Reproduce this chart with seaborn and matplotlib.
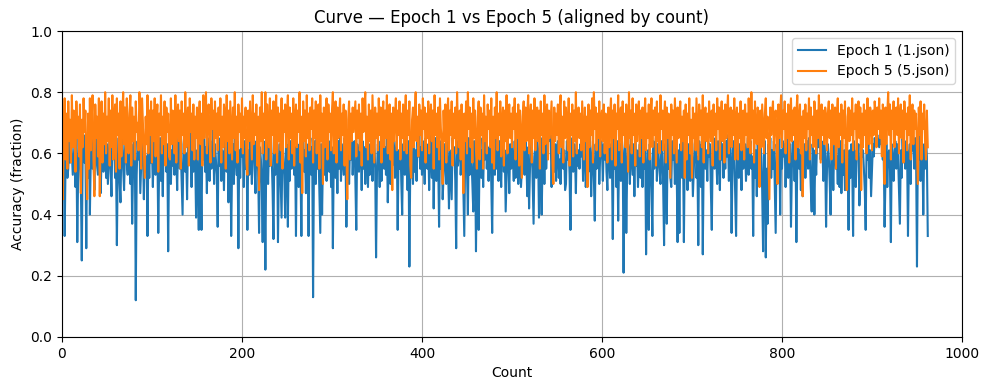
"""Epoch 1 vs Epoch 5 accuracy curve, aligned by count."""

import matplotlib

matplotlib.use("Agg")
import matplotlib.pyplot as plt
import numpy as np
import seaborn as sns

TITLE = "Curve \u2014 Epoch 1 vs Epoch 5 (aligned by count)"
LABELS = ["Epoch 1 (1.json)", "Epoch 5 (5.json)"]

# accuracy per count, in percent
epoch1_pct = [
    45, 56, 63, 33, 58, 67, 52, 55, 64, 57, 66, 60, 53, 58, 63, 49, 65, 31, 54, 62, 59, 50, 25, 60, 66,
    57, 63, 29, 64, 52, 67, 40, 58, 65, 55, 61, 48, 64, 68, 56, 53, 62, 66, 47, 59, 65, 54, 61, 67, 52,
    63, 50, 58, 66, 55, 46, 64, 60, 67, 52, 59, 30, 57, 65, 51, 44, 62, 68, 55, 48, 61, 66, 57, 53, 64,
    59, 50, 63, 37, 55, 66, 60, 12, 53, 64, 58, 67, 47, 56, 65, 61, 45, 64, 54, 59, 33, 62, 52, 66, 57,
    61, 49, 64, 58, 53, 67, 62, 34, 56, 65, 51, 60, 46, 64, 58, 68, 54, 63, 28, 59, 66, 50, 61, 56, 65,
    53, 62, 59, 48, 64, 67, 55, 61, 50, 40, 63, 66, 54, 60, 45, 64, 57, 67, 61, 49, 63, 54, 65, 59, 39,
    61, 52, 35, 63, 56, 35, 64, 58, 67, 54, 62, 47, 65, 60, 51, 64, 55, 61, 68, 50, 63, 58, 53, 36, 64,
    56, 65, 51, 61, 59, 48, 66, 62, 54, 64, 44, 58, 65, 33, 55, 63, 50, 67, 60, 53, 64, 29, 61, 52, 65,
    59, 63, 49, 64, 55, 66, 35, 61, 53, 65, 58, 50, 63, 67, 56, 47, 64, 60, 54, 34, 62, 58, 50, 31, 64,
    54, 22, 61, 65, 50, 63, 56, 67, 59, 48, 32, 64, 53, 61, 66, 31, 55, 63, 51, 39, 64, 59, 53, 39, 65,
    60, 36, 63, 51, 64, 55, 67, 61, 53, 62, 33, 65, 58, 49, 63, 56, 33, 64, 68, 54, 61, 47, 63, 59, 33,
    61, 65, 53, 62, 13, 58, 64, 50, 66, 55, 61, 48, 34, 63, 40, 59, 65, 53, 62, 51, 67, 58, 54, 64, 49,
    62, 29, 59, 65, 52, 61, 47, 64, 55, 67, 51, 63, 58, 53, 65, 60, 36, 56, 64, 50, 62, 58, 66, 53, 61,
    64, 51, 35, 63, 58, 54, 65, 61, 48, 64, 55, 62, 50, 66, 59, 49, 63, 53, 61, 64, 51, 59, 65, 55, 26,
    54, 63, 59, 49, 64, 51, 61, 67, 55, 62, 53, 65, 44, 58, 64, 50, 61, 56, 66, 62, 52, 59, 64, 35, 61,
    55, 65, 51, 40, 63, 59, 53, 66, 61, 48, 64, 23, 56, 62, 58, 50, 65, 54, 61, 51, 64, 59, 67, 55, 62,
    53, 64, 59, 50, 65, 61, 55, 63, 48, 66, 58, 52, 64, 42, 61, 65, 51, 63, 58, 36, 64, 55, 61, 45, 53,
    63, 58, 50, 64, 55, 42, 61, 53, 45, 65, 59, 62, 51, 29, 64, 56, 61, 66, 53, 59, 63, 48, 33, 61, 64,
    55, 40, 65, 53, 63, 58, 50, 41, 64, 61, 28, 56, 63, 35, 59, 65, 52, 61, 49, 64, 58, 67, 55, 62, 51,
    61, 64, 50, 34, 59, 63, 53, 65, 55, 61, 51, 64, 58, 49, 62, 66, 54, 61, 41, 52, 64, 59, 47, 63, 55,
    62, 58, 51, 64, 52, 61, 65, 50, 59, 63, 49, 55, 64, 61, 53, 65, 58, 46, 62, 42, 55, 61, 64, 50, 37,
    59, 63, 52, 64, 61, 39, 56, 65, 40, 58, 62, 50, 64, 55, 61, 66, 65, 64, 66, 49, 64, 61, 54, 63, 51,
    61, 64, 52, 58, 50, 63, 65, 55, 61, 48, 50, 64, 58, 62, 53, 35, 61, 65, 54, 63, 59, 47, 64, 56, 61,
    55, 63, 59, 65, 51, 61, 64, 49, 59, 63, 54, 66, 61, 46, 58, 64, 52, 38, 63, 55, 61, 65, 50, 59, 64,
    61, 51, 63, 58, 65, 54, 48, 64, 61, 52, 63, 59, 32, 65, 55, 61, 49, 64, 38, 58, 63, 51, 65, 61, 21,
    58, 64, 34, 55, 63, 61, 50, 65, 59, 53, 63, 46, 64, 56, 61, 49, 58, 63, 52, 65, 49, 61, 55, 64, 27,
    53, 61, 35, 63, 58, 48, 33, 64, 55, 61, 65, 51, 63, 59, 54, 50, 64, 61, 49, 30, 63, 58, 37, 65, 55,
    61, 52, 49, 64, 58, 63, 50, 65, 55, 31, 61, 34, 63, 59, 52, 64, 31, 61, 54, 65, 48, 63, 58, 51, 64,
    61, 46, 55, 63, 65, 52, 59, 30, 64, 61, 49, 63, 27, 58, 65, 55, 61, 51, 64, 59, 63, 48, 35, 61, 65,
    55, 63, 59, 50, 64, 61, 48, 65, 58, 63, 52, 61, 55, 64, 59, 66, 51, 63, 61, 34, 55, 64, 59, 47, 33,
    61, 65, 52, 63, 59, 48, 64, 55, 61, 63, 51, 58, 65, 53, 61, 64, 55, 59, 33, 63, 52, 61, 46, 64, 58,
    51, 63, 59, 48, 28, 61, 64, 26, 55, 37, 63, 58, 65, 52, 61, 55, 64, 49, 34, 63, 59, 51, 65, 40, 61,
    55, 64, 59, 63, 49, 61, 65, 52, 58, 63, 36, 55, 64, 61, 51, 63, 31, 58, 65, 55, 61, 48, 64, 46, 59,
    63, 52, 61, 64, 55, 65, 59, 49, 41, 63, 58, 40, 61, 53, 64, 66, 62, 65, 58, 64, 61, 51, 63, 59, 36,
    55, 63, 59, 51, 40, 64, 61, 48, 63, 65, 55, 59, 50, 63, 49, 64, 47, 59, 53, 61, 48, 63, 55, 58, 35,
    61, 52, 63, 58, 33, 64, 55, 49, 61, 59, 63, 43, 51, 64, 59, 61, 55, 48, 35, 63, 58, 64, 52, 61, 46,
    55, 63, 59, 65, 63, 65, 66, 64, 62, 65, 63, 66, 58, 61, 36, 52, 63, 49, 59, 61, 55, 31, 63, 58, 51,
    61, 64, 55, 63, 59, 48, 37, 61, 52, 65, 58, 63, 55, 64, 61, 33, 58, 63, 50, 66, 61, 64, 55, 65, 59,
    23, 63, 58, 66, 51, 64, 61, 40, 63, 55, 65, 59, 33,
]

epoch5_pct = [
    60, 45, 69, 78, 58, 73, 55, 77, 64, 71, 57, 79, 62, 74, 68, 54, 77, 65, 72, 59, 76, 47, 71, 62, 78,
    67, 74, 56, 45, 73, 55, 78, 61, 71, 79, 58, 46, 76, 65, 72, 59, 78, 46, 68, 77, 57, 73, 63, 80, 60,
    72, 64, 78, 56, 74, 62, 79, 58, 71, 76, 54, 78, 66, 73, 55, 77, 59, 72, 80, 63, 75, 57, 78, 67, 60,
    73, 79, 56, 75, 64, 72, 58, 77, 67, 70, 61, 80, 74, 55, 78, 69, 59, 52, 72, 63, 79, 60, 74, 66, 77,
    57, 74, 64, 78, 59, 71, 76, 54, 73, 66, 79, 60, 72, 63, 77, 56, 75, 67, 73, 59, 58, 78, 63, 74, 68,
    60, 79, 57, 72, 76, 64, 74, 55, 77, 66, 73, 60, 80, 62, 71, 75, 56, 78, 67, 73, 61, 76, 58, 72, 65,
    75, 58, 71, 77, 63, 73, 56, 79, 65, 74, 80, 60, 72, 76, 64, 57, 78, 68, 74, 59, 77, 65, 73, 61, 75,
    66, 78, 57, 72, 62, 76, 73, 55, 79, 64, 74, 60, 77, 68, 58, 75, 65, 80, 61, 72, 57, 76, 67, 73, 62,
    78, 60, 72, 65, 75, 57, 53, 74, 64, 77, 68, 58, 79, 63, 73, 66, 76, 56, 72, 48, 75, 64, 80, 60, 73,
    65, 80, 58, 76, 68, 62, 78, 56, 74, 66, 77, 60, 72, 79, 57, 75, 64, 73, 61, 78, 55, 74, 67, 76, 62,
    72, 79, 58, 75, 65, 73, 60, 78, 56, 71, 76, 62, 74, 67, 80, 57, 72, 47, 77, 64, 74, 59, 79, 65, 73,
    61, 75, 68, 78, 57, 74, 65, 77, 60, 72, 76, 55, 79, 64, 73, 50, 75, 62, 71, 78, 58, 76, 67, 73, 61,
    74, 80, 60, 71, 77, 57, 75, 65, 72, 78, 61, 73, 66, 76, 56, 74, 63, 45, 71, 77, 58, 73, 64, 75, 67,
    72, 77, 59, 74, 65, 76, 61, 73, 56, 78, 67, 75, 80, 62, 72, 58, 76, 64, 74, 60, 79, 68, 57, 75, 65,
    73, 61, 78, 66, 75, 57, 72, 77, 62, 74, 65, 79, 60, 71, 76, 58, 73, 48, 75, 64, 72, 78, 61, 74, 66,
    77, 58, 73, 65, 76, 61, 72, 79, 60, 74, 66, 77, 56, 52, 71, 75, 62, 73, 80, 64, 72, 59, 76, 66, 74,
    61, 78, 68, 75, 57, 73, 65, 77, 60, 72, 76, 64, 74, 55, 79, 66, 73, 62, 75, 58, 78, 68, 64, 50, 74,
    64, 76, 57, 72, 78, 61, 74, 66, 77, 56, 73, 65, 75, 60, 80, 68, 62, 74, 58, 76, 66, 47, 73, 64, 77,
    60, 80, 68, 75, 62, 73, 57, 78, 65, 74, 61, 55, 72, 77, 58, 75, 66, 73, 55, 79, 64, 72, 60, 76, 68,
    74, 62, 78, 57, 72, 55, 75, 65, 80, 61, 73, 66, 77, 59, 71, 75, 56, 74, 64, 79, 60, 72, 76, 65, 73,
    62, 75, 68, 78, 58, 73, 65, 76, 56, 74, 66, 52, 72, 77, 61, 75, 64, 73, 79, 60, 71, 76, 57, 74, 65,
    78, 61, 72, 75, 64, 74, 55, 77, 66, 73, 60, 79, 63, 72, 76, 58, 74, 65, 71, 77, 57, 50, 75, 64, 73,
    66, 76, 60, 74, 79, 62, 72, 57, 77, 65, 75, 68, 61, 78, 56, 73, 66, 76, 59, 74, 64, 80, 60, 72, 75,
    65, 73, 61, 77, 68, 58, 75, 64, 72, 49, 76, 62, 74, 66, 78, 57, 80, 68, 75, 61, 73, 65, 77, 59, 72,
    74, 64, 76, 60, 73, 66, 57, 75, 62, 72, 78, 58, 74, 65, 76, 56, 73, 68, 79, 61, 72, 75, 57, 77, 66,
    73, 62, 76, 68, 54, 80, 65, 74, 60, 78, 66, 73, 56, 76, 64, 72, 77, 59, 74, 65, 75, 57, 71, 78, 61,
    73, 65, 76, 58, 72, 78, 62, 74, 66, 75, 56, 77, 64, 73, 60, 79, 68, 74, 61, 72, 77, 57, 75, 65, 73,
    62, 52, 76, 66, 74, 60, 78, 68, 57, 75, 65, 73, 77, 61, 72, 64, 74, 52, 76, 58, 73, 66, 78, 60, 71,
    52, 75, 65, 73, 61, 78, 68, 58, 76, 66, 74, 62, 79, 57, 72, 75, 64, 73, 60, 77, 68, 64, 74, 56, 76,
    66, 73, 61, 78, 68, 75, 58, 72, 77, 64, 74, 57, 76, 65, 73, 79, 60, 71, 75, 62, 74, 66, 78, 58, 72,
    75, 58, 73, 65, 77, 61, 72, 74, 58, 76, 66, 73, 62, 78, 68, 60, 80, 65, 74, 57, 77, 68, 63, 75, 72,
    49, 74, 62, 76, 68, 60, 73, 78, 65, 72, 58, 45, 75, 66, 73, 77, 61, 71, 74, 64, 50, 76, 65, 73, 79,
    62, 74, 68, 77, 60, 73, 65, 76, 57, 72, 78, 64, 74, 66, 75, 58, 73, 79, 62, 71, 76, 60, 72, 46, 74,
    65, 76, 61, 73, 68, 78, 58, 75, 66, 72, 62, 77, 73, 60, 74, 65, 79, 68, 57, 76, 66, 74, 63, 75, 72,
    61, 73, 77, 65, 74, 58, 76, 68, 63, 75, 55, 72, 78, 62, 73, 66, 76, 57, 74, 65, 77, 60, 48, 72, 75,
    64, 74, 66, 78, 61, 73, 68, 76, 58, 72, 77, 65, 75, 48, 73, 62, 76, 66, 74, 60, 78, 68, 63, 75, 72,
    61, 74, 66, 77, 73, 62, 75, 68, 78, 65, 74, 59, 76, 72, 50, 75, 63, 73, 80, 66, 76, 58, 74, 68, 77,
    62, 73, 75, 66, 78, 60, 72, 76, 65, 74, 57, 77, 68, 73, 61, 75, 66, 79, 58, 72, 76, 63, 74, 68, 73,
    62, 50, 75, 66, 77, 58, 73, 68, 76, 64, 58, 74, 62,
]

SERIES = [epoch1_pct, epoch5_pct]
COLORS = ["#1f77b4", "#ff7f0e"]

fig, ax = plt.subplots(figsize=(9.9, 3.9), dpi=100)
for values, label, color in zip(SERIES, LABELS, COLORS):
    y = np.asarray(values) / 100.0
    x = np.arange(len(y))
    sns.lineplot(x=x, y=y, ax=ax, label=label, color=color, linewidth=1.5)

ax.set_xlim(0, 1000)
ax.set_ylim(0, 1.0)
ax.set_title(TITLE)
ax.set_xlabel("Count")
ax.set_ylabel("Accuracy (fraction)")
ax.grid(True)
ax.legend(loc="upper right")
fig.subplots_adjust(left=0.0626, right=0.9717, top=0.9205, bottom=0.136)
fig.savefig("out.png", dpi=100)
